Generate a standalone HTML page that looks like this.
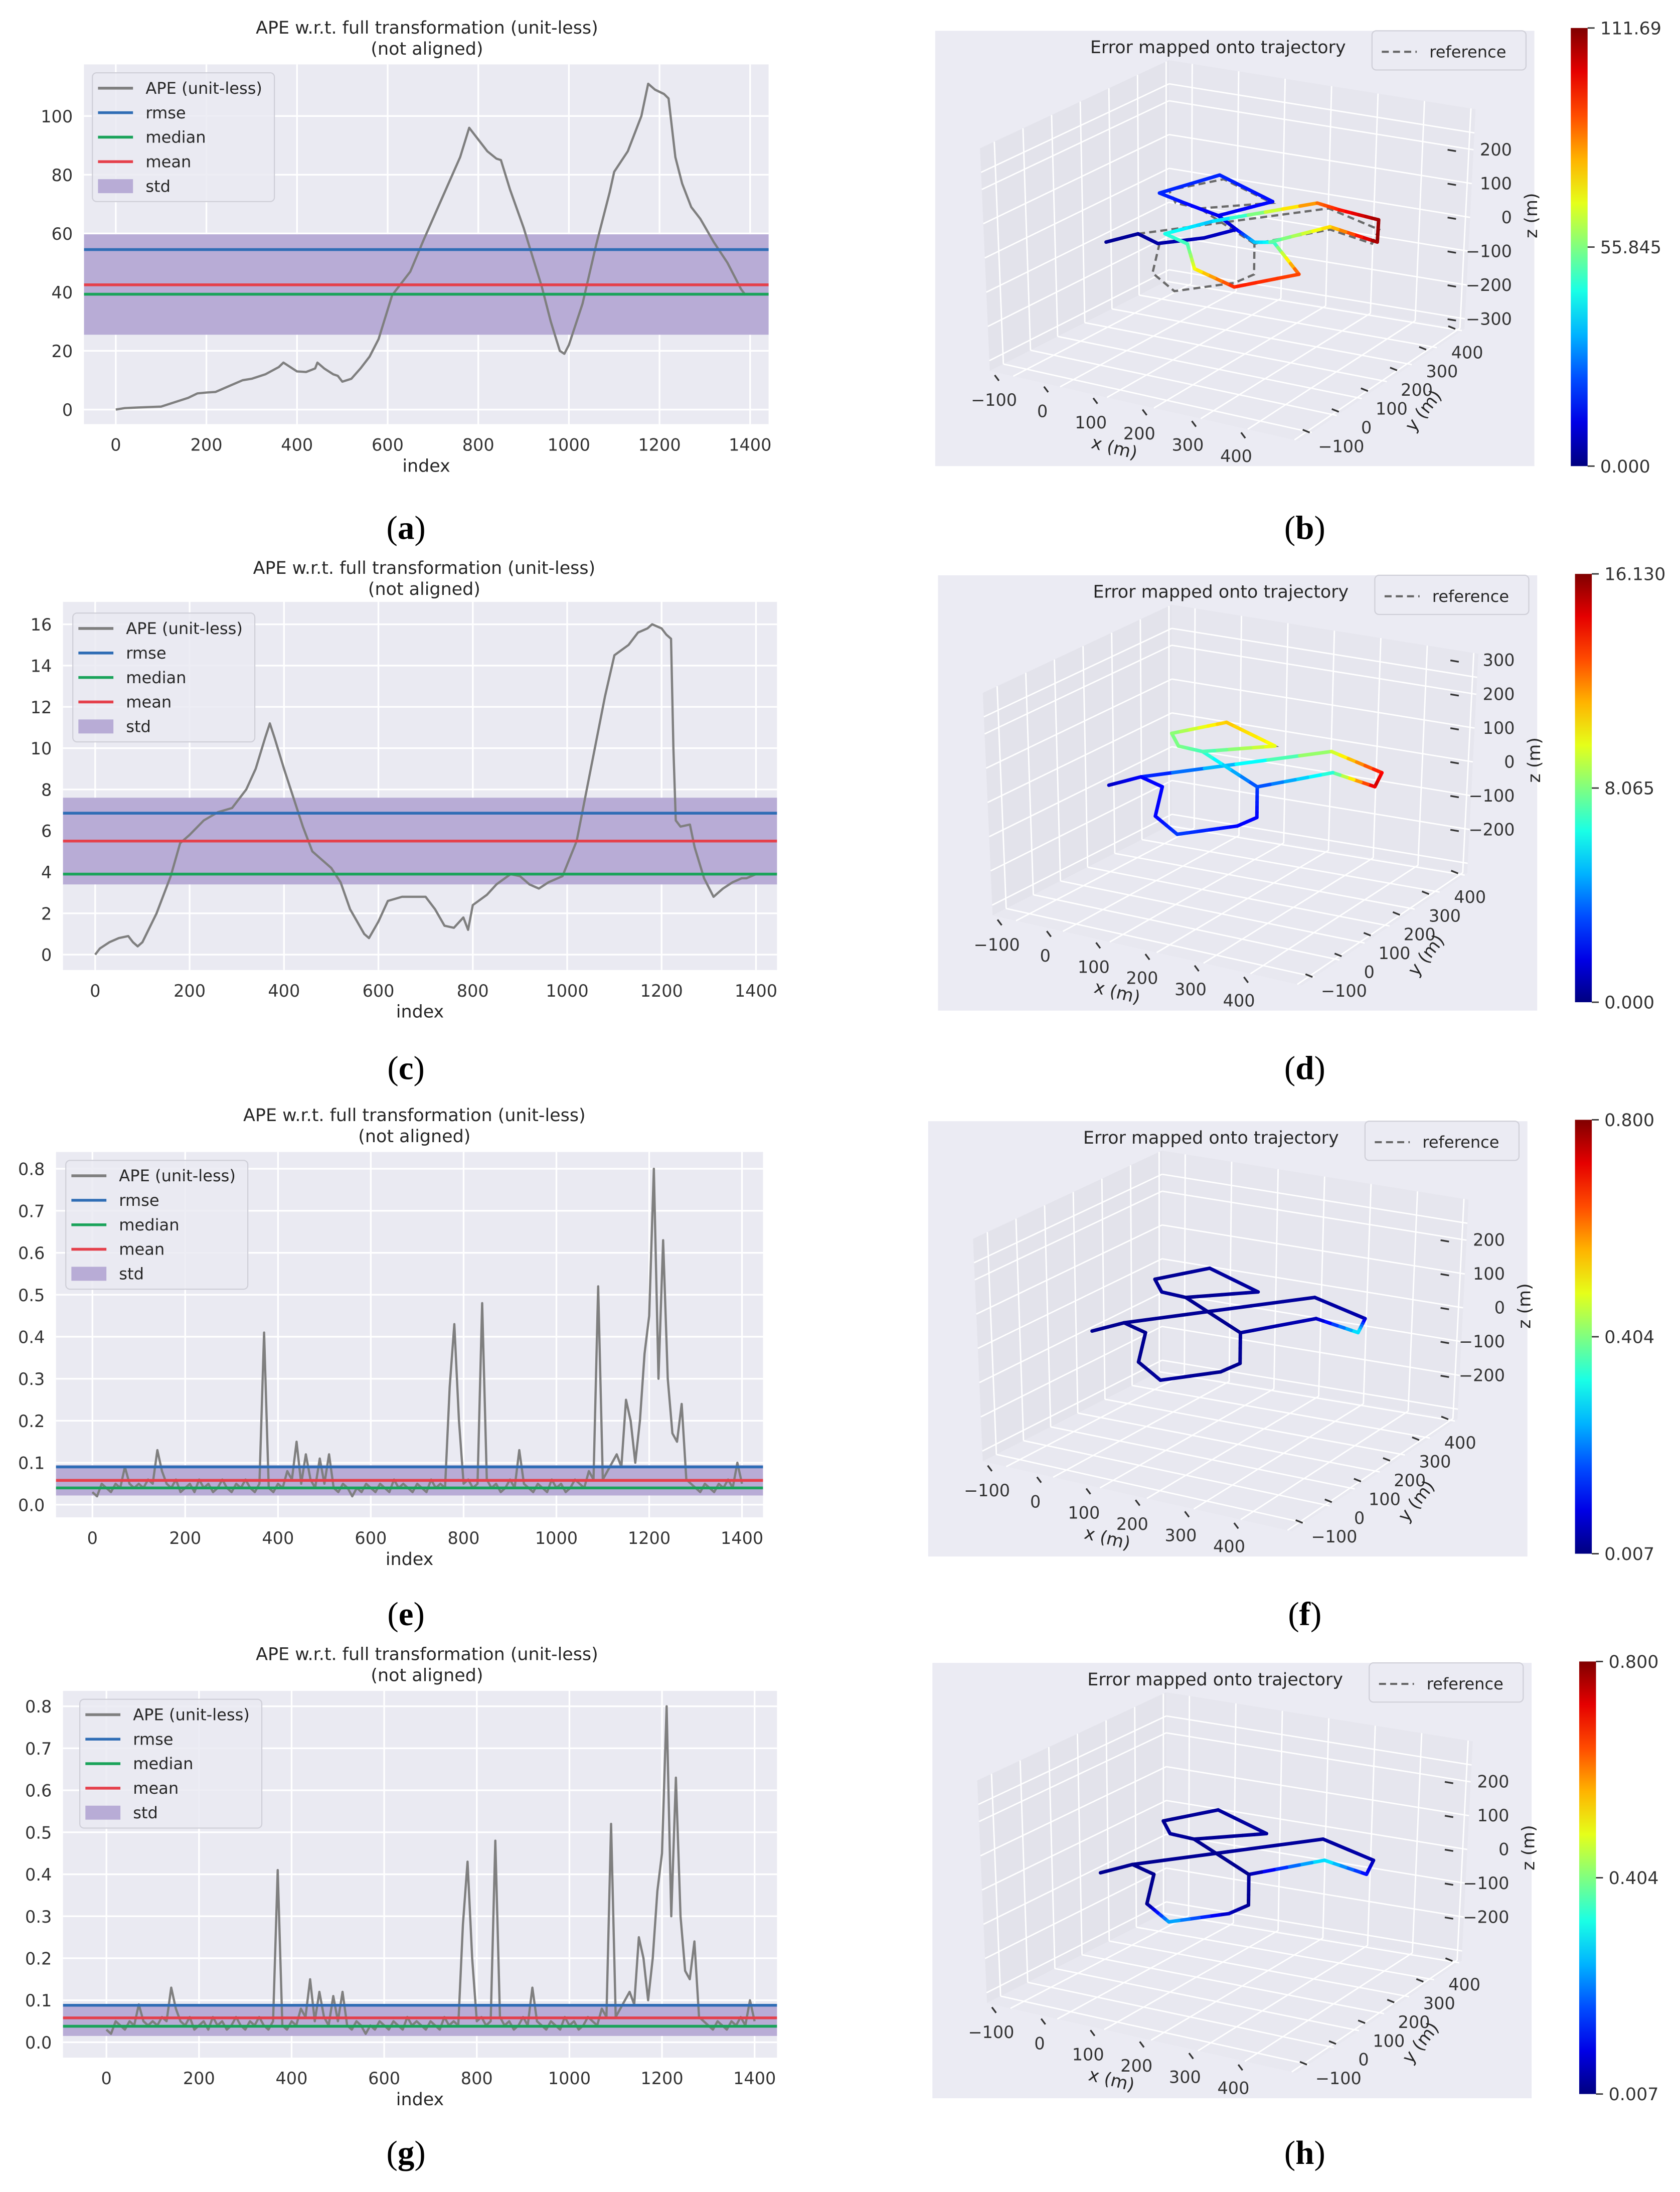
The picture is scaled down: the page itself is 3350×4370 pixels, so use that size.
<!DOCTYPE html>
<html><head><meta charset="utf-8">
<style>
html,body{margin:0;padding:0;background:#fff;}
svg{display:block;}
text{font-family:"DejaVu Sans","Liberation Sans",sans-serif;}
.cap{font-family:"Liberation Serif",serif;}
</style></head>
<body>
<svg id="fig" xmlns="http://www.w3.org/2000/svg" width="3350" height="4370" viewBox="0 0 1200 1566" preserveAspectRatio="none">
<rect x="0" y="0" width="1200" height="1566" fill="#ffffff"/>
</svg>
<script>
// ---------- DATA: panel (a) ----------
const aIdx=[0,20,50,100,130,160,180,200,220,250,280,300,330,360,370,380,400,420,440,445,460,480,490,500,520,540,560,580,600,610,620,650,680,720,760,780,800,820,840,850,870,900,940,960,980,990,1000,1030,1060,1090,1100,1130,1160,1175,1190,1210,1220,1235,1250,1270,1290,1320,1350,1380,1390];
const aVal=[0,0.5,0.7,1,2.5,4,5.5,5.8,6,8,10,10.5,12,14.5,16,15,13,12.8,14,16,14,12,11.5,9.5,10.5,14,18,24,34,39,41,47,58,72,86,96,92,88,85.5,85,75,62,42,30,20,19,22,36,56,74,81,88,100,111,109,107.5,106,86,77,69,65,57,50,41,39];
const aRmse=54.5, aMedian=39.3, aMean=42.5, aStdLo=25.5, aStdHi=59.7;
const aYTicks=[0,20,40,60,80,100];
// ---------- DATA: panel (c) ----------
const cIdx=[0,10,30,50,70,80,90,100,130,160,180,200,230,260,290,320,340,360,370,380,400,420,440,460,500,520,540,570,580,600,620,650,680,700,720,740,760,780,790,800,830,850,880,900,920,940,960,990,1020,1050,1080,1100,1130,1150,1170,1180,1200,1210,1220,1225,1230,1240,1260,1270,1290,1310,1330,1350,1370,1380,1400];
const cVal=[0,0.3,0.6,0.8,0.9,0.6,0.4,0.6,2,3.8,5.4,5.8,6.5,6.9,7.1,8,9,10.5,11.2,10.5,9,7.6,6.2,5,4.2,3.5,2.2,1,0.8,1.6,2.6,2.8,2.8,2.8,2.2,1.4,1.3,1.8,1.2,2.4,2.9,3.4,3.9,3.8,3.4,3.2,3.5,3.8,5.5,9,12.5,14.5,15,15.6,15.8,16,15.8,15.5,15.3,10,6.5,6.2,6.3,5.2,3.7,2.8,3.2,3.5,3.7,3.7,3.9];
const cRmse=6.85, cMedian=3.9, cMean=5.5, cStdLo=3.4, cStdHi=7.6;
const cYTicks=[0,2,4,6,8,10,12,14,16];
// ---------- DATA: panel (e) (index step 10) ----------
const eVal=[0.03,0.02,0.05,0.04,0.03,0.05,0.04,0.09,0.05,0.04,
0.05,0.04,0.06,0.05,0.13,0.08,0.05,0.04,0.06,0.03,
0.04,0.05,0.03,0.06,0.04,0.05,0.03,0.04,0.06,0.04,
0.03,0.05,0.04,0.06,0.04,0.03,0.05,0.41,0.04,0.03,
0.05,0.04,0.08,0.06,0.15,0.05,0.12,0.06,0.04,0.11,
0.05,0.12,0.04,0.03,0.05,0.04,0.02,0.04,0.03,0.05,
0.04,0.03,0.05,0.04,0.03,0.06,0.04,0.05,0.04,0.03,
0.05,0.04,0.03,0.06,0.04,0.05,0.04,0.28,0.43,0.2,
0.05,0.06,0.04,0.05,0.48,0.06,0.04,0.05,0.03,0.04,
0.06,0.04,0.13,0.05,0.04,0.03,0.05,0.04,0.03,0.06,
0.04,0.05,0.03,0.04,0.06,0.05,0.04,0.08,0.06,0.52,
0.06,0.08,0.1,0.12,0.09,0.25,0.2,0.1,0.2,0.36,
0.45,0.8,0.3,0.63,0.3,0.17,0.15,0.24,0.06,0.05,
0.04,0.03,0.05,0.04,0.03,0.05,0.04,0.06,0.04,0.1,0.05];
const eRmse=0.09, eMedian=0.04, eMean=0.058, eStdLo=0.022, eStdHi=0.094;
const eYTicks=[0,0.1,0.2,0.3,0.4,0.5,0.6,0.7,0.8];
// ---------- DATA: panel (g) ----------
const gVal=[0.03,0.02,0.05,0.04,0.03,0.05,0.04,0.09,0.05,0.04,
0.05,0.04,0.06,0.05,0.13,0.08,0.05,0.04,0.06,0.03,
0.04,0.05,0.03,0.06,0.04,0.05,0.03,0.04,0.06,0.04,
0.03,0.05,0.04,0.06,0.04,0.03,0.05,0.41,0.04,0.03,
0.05,0.04,0.08,0.06,0.15,0.05,0.12,0.06,0.04,0.11,
0.05,0.12,0.04,0.03,0.05,0.04,0.02,0.04,0.03,0.05,
0.04,0.03,0.05,0.04,0.03,0.06,0.04,0.05,0.04,0.03,
0.05,0.04,0.03,0.06,0.04,0.05,0.04,0.28,0.43,0.2,
0.05,0.06,0.04,0.05,0.48,0.06,0.04,0.05,0.03,0.04,
0.06,0.04,0.13,0.05,0.04,0.03,0.05,0.04,0.03,0.06,
0.04,0.05,0.03,0.04,0.06,0.05,0.04,0.08,0.06,0.52,
0.06,0.08,0.1,0.12,0.09,0.25,0.2,0.1,0.2,0.36,
0.45,0.8,0.3,0.63,0.3,0.17,0.15,0.24,0.06,0.05,
0.04,0.03,0.05,0.04,0.03,0.05,0.04,0.06,0.04,0.1,0.05];
const gRmse=0.088, gMedian=0.038, gMean=0.058, gStdLo=0.015, gStdHi=0.085;
const gYTicks=[0,0.1,0.2,0.3,0.4,0.5,0.6,0.7,0.8];
const xTicks=[0,200,400,600,800,1000,1200,1400];
// ---------- DATA: 3D trajectories (metres) ----------
const bEst1X=[-123,-90,-39,22,55,-2,-81,-141,-84,54,-2];
const bEst1Y=[-94,-31,-52,13,77,116,136,153,281,223,116];
const bEst1Err=[2,3,4,6,8,12,15,18,18,15,12];
const bEst2X=[55,110,140,246,171,71,8,-48,2,127,176,258,302,196,134];
const bEst2Y=[77,42,60,-46,-157,-120,-26,-6,90,258,251,247,156,174,57];
const bEst2Err=[10,35,45,90,95,70,50,45,35,85,95,108,110,75,50];
const refAX=[-123,-90,156,279,297,202,113,176,163,86,14,-36,-90];
const refAY=[-94,-31,247,208,145,163,36,-88,-140,-229,-176,-51,-31];
const refBX=[113,-46,-95,-132,-69,56,-46];
const refBY=[36,128,128,173,268,217,128];
const dErrA=[1,2,9,14,15,7,3,2,2,3,2,2,2];
const dErrB=[3,7,8,8,11,10,7];
const fErrA=[0.02,0.02,0.03,0.04,0.3,0.05,0.03,0.02,0.02,0.03,0.02,0.02,0.02];
const fErrB=[0.02,0.02,0.03,0.02,0.03,0.03,0.02];
const hErrA=[0.02,0.02,0.03,0.04,0.1,0.3,0.03,0.02,0.05,0.25,0.02,0.02,0.02];
const hErrB=[0.02,0.02,0.03,0.02,0.03,0.03,0.02];
const xTicks3=[-100,0,100,200,300,400];
const yTicks3=[-100,0,100,200,300,400];
const bZTicks=[200,100,0,-100,-200,-300];
const dZTicks=[300,200,100,0,-100,-200];
const fZTicks=[200,100,0,-100,-200];
const bCbarLabels=['111.69','55.845','0.000'];
const dCbarLabels=['16.130','8.065','0.000'];
const fCbarLabels=['0.800','0.404','0.007'];
const hCbarLabels=['0.800','0.404','0.007'];

const NS='http://www.w3.org/2000/svg';
const svg=document.getElementById('fig');
function mk(tag,attrs,parent){const e=document.createElementNS(NS,tag);for(const k in attrs)e.setAttribute(k,attrs[k]);(parent||svg).appendChild(e);return e;}

function drawAPE(name,G,idx,vals,rmse,median,mean,sLo,sHi,yTicks,dec){
  const grp=mk('g',{});
  
  
  const fx=i=>G.x0+(i/1400)*(G.x1400-G.x0);
  const fy=v=>G.y0-(v/G.yTopV)*(G.y0-G.yTopPx);
  const t1=mk('text',{x:G.tx,y:G.ty,'text-anchor':'middle','font-size':12.5,fill:'#262626'},grp);t1.textContent='APE w.r.t. full transformation (unit-less)';
  
  
  const t2=mk('text',{x:G.tx,y:G.ty+15,'text-anchor':'middle','font-size':12.5,fill:'#262626'},grp);t2.textContent='(not aligned)';
  
  
  const bg=mk('rect',{x:G.L,y:G.T,width:G.R-G.L,height:G.B-G.T,fill:'#eaeaf2'},grp);
  
  
  xTicks.forEach(t=>{
    const l=mk('line',{x1:fx(t),x2:fx(t),y1:G.T,y2:G.B,stroke:'#fff','stroke-width':1.2},grp);
    
    
    const tx=mk('text',{x:fx(t),y:G.B+19,'text-anchor':'middle','font-size':12,fill:'#333'},grp);tx.textContent=String(t);
    
    
  });
  yTicks.forEach(t=>{
    const l=mk('line',{x1:G.L,x2:G.R,y1:fy(t),y2:fy(t),stroke:'#fff','stroke-width':1.2},grp);
    
    
    const ty=mk('text',{x:G.L-8,y:fy(t)+4.5,'text-anchor':'end','font-size':12,fill:'#333'},grp);ty.textContent=dec?t.toFixed(1):String(t);
    
    
  });
  const xl=mk('text',{x:(G.L+G.R)/2,y:G.B+34,'text-anchor':'middle','font-size':12.5,fill:'#262626'},grp);xl.textContent='index';
  
  
  const band=mk('rect',{x:G.L,y:fy(sHi),width:G.R-G.L,height:fy(sLo)-fy(sHi),fill:'#b8acd6'},grp);
  
  
  const pts=idx.map((i,k)=>fx(i).toFixed(2)+','+fy(vals[k]).toFixed(2)).join(' ');
  const pl=mk('polyline',{points:pts,fill:'none',stroke:'#7f7f7f','stroke-width':1.6,'stroke-linejoin':'round'},grp);
  
  
  [[rmse,'#2f6db5','rmse-line'],[median,'#1aa35a','median-line'],[mean,'#e5404b','mean-line']].forEach(s=>{
    const l=mk('line',{x1:G.L,x2:G.R,y1:fy(s[0]),y2:fy(s[0]),stroke:s[1],'stroke-width':2},grp);
    
    
  });
  const lg=mk('g',{},grp);
  
  
  const lb=mk('rect',{x:G.lx,y:G.ly,width:130,height:92,rx:3,fill:'#eaeaf2','fill-opacity':0.85,stroke:'#cfcfd8','stroke-width':0.8},lg);
  
  
  const items=[['APE (unit-less)','#7f7f7f'],['rmse','#2f6db5'],['median','#1aa35a'],['mean','#e5404b'],['std','#b8acd6']];
  items.forEach((it,k)=>{
    const yy=G.ly+11+k*17.5;
    let m;
    if(k<4){m=mk('line',{x1:G.lx+4,x2:G.lx+29,y1:yy,y2:yy,stroke:it[1],'stroke-width':2},lg);}
    else{m=mk('rect',{x:G.lx+4,y:yy-5,width:25,height:10,fill:it[1]},lg);}
    
    
    const t=mk('text',{x:G.lx+38,y:yy+4,'font-size':11.5,fill:'#262626'},lg);t.textContent=it[0];
    
    
  });
}

const stepIdx=eVal.map((v,k)=>k*10);
drawAPE('ape-chart-a',{L:60,R:549,T:46,B:303,x0:82.7,x1400:535.8,y0:292.6,yTopV:100,yTopPx:82.9,tx:305,ty:24,lx:66,ly:52},aIdx,aVal,aRmse,aMedian,aMean,aStdLo,aStdHi,aYTicks,false);
drawAPE('ape-chart-c',{L:45,R:555,T:430,B:693,x0:68,x1400:540,y0:682,yTopV:16,yTopPx:446,tx:303,ty:410,lx:52,ly:438},cIdx,cVal,cRmse,cMedian,cMean,cStdLo,cStdHi,cYTicks,false);
drawAPE('ape-chart-e',{L:40,R:545,T:823,B:1084,x0:66,x1400:530,y0:1075,yTopV:0.8,yTopPx:835,tx:296,ty:801,lx:47,ly:829},stepIdx,eVal,eRmse,eMedian,eMean,eStdLo,eStdHi,eYTicks,true);
drawAPE('ape-chart-g',{L:45,R:555,T:1208,B:1470,x0:76,x1400:539,y0:1459,yTopV:0.8,yTopPx:1219,tx:305,ty:1186,lx:57,ly:1214},stepIdx,gVal,gRmse,gMedian,gMean,gStdLo,gStdHi,gYTicks,true);

function jet(t){t=Math.max(0,Math.min(1,t));const c=v=>Math.round(255*Math.max(0,Math.min(1,v)));return 'rgb('+c(1.5-Math.abs(4*t-3))+','+c(1.5-Math.abs(4*t-2))+','+c(1.5-Math.abs(4*t-1))+')';}
function lerp(a,b,t){return [a[0]+(b[0]-a[0])*t,a[1]+(b[1]-a[1])*t];}

function draw3D(name,ox,oy,P,zTicks,cbar,cbarLabels,trajs,refs,emin,emax){
  const grp=mk('g',{});
  
  
  const bg=mk('rect',{x:668+ox,y:22+oy,width:428,height:311,fill:'#ebebf3'},grp);
  
  
  const o=(p)=>[p[0]+ox,p[1]+oy];
  const FL=o([707,265]),B=o([835,200]),R=o([1046,235]),F=o([928,315]);
  const FLt=o([700,106]),Bt=o([835,43]),Rt=o([1054,78]);
  const poly=(pts,fill,nm)=>{const p=mk('polygon',{points:pts.map(q=>q.join(',')).join(' '),fill:fill},grp);};
  poly([FL,B,Bt,FLt],'#e3e3eb','left-pane');
  poly([B,R,Rt,Bt],'#e6e6ee','back-pane');
  poly([FL,F,R,B],'#e8e8f0','floor-pane');
  const gl=(a,b)=>{const l=mk('line',{x1:a[0],y1:a[1],x2:b[0],y2:b[1],stroke:'#fff','stroke-width':1},grp);};
  const zPx=z=>107+(200-z)*0.242;
  for(let k=0;k<=6;k++){const u=(k+0.5)/6.6;
    gl(lerp(FL,F,u),lerp(B,R,u)); gl(lerp(B,R,u),lerp(Bt,Rt,u));
    gl(lerp(FL,B,u),lerp(F,R,u)); gl(lerp(FL,B,u),lerp(FLt,Bt,u));}
  [250,200,100,0,-100,-200,-300].forEach(z=>{
    const w=(zPx(z)-zPx(-330))/(zPx(320)-zPx(-330));
    gl(lerp(FL,FLt,w),lerp(B,Bt,w)); gl(lerp(B,Bt,w),lerp(R,Rt,w));
  });
  zTicks.forEach(z=>{
    const yy=zPx(z)+oy;
    const d=mk('line',{x1:1034+ox,x2:1040+ox,y1:yy,y2:yy+1,stroke:'#333','stroke-width':1.2},grp);
    
    
    const t=mk('text',{x:1080+ox,y:yy+4,'text-anchor':'end','font-size':12,fill:'#333'},grp);t.textContent=(z<0?'\u2212'+(-z):String(z));
    
    
  });
  xTicks3.forEach((v,k)=>{
    const u=(v+100)/500;
    const p=lerp([710+ox,290+oy],[883+ox,330+oy],u);
    const t=mk('text',{x:p[0],y:p[1],'text-anchor':'middle','font-size':12,fill:'#333'},grp);t.textContent=(v<0?'\u2212'+(-v):String(v));
    
    
    const q=lerp([712+ox,270+oy],[888+ox,311+oy],u);
    const d=mk('line',{x1:q[0]-1.5,y1:q[1]-2,x2:q[0]+1.5,y2:q[1]+2,stroke:'#333','stroke-width':1.2},grp);
    
    
  });
  yTicks3.forEach((v,k)=>{
    const u=(v+100)/500;
    const p=lerp([958+ox,323+oy],[1048+ox,256+oy],u);
    const t=mk('text',{x:p[0],y:p[1],'text-anchor':'middle','font-size':12,fill:'#333'},grp);t.textContent=(v<0?'\u2212'+(-v):String(v));
    
    
    const q=lerp([933+ox,308+oy],[1037+ox,234+oy],u);
    const d=mk('line',{x1:q[0]-2.5,y1:q[1]-1,x2:q[0]+2.5,y2:q[1]+1,stroke:'#333','stroke-width':1.2},grp);
    
    
  });
  const xt=mk('text',{x:795+ox,y:324+oy,'text-anchor':'middle','font-size':12.5,fill:'#262626',transform:'rotate(14 '+(795+ox)+' '+(324+oy)+')'},grp);xt.textContent='x (m)';
  
  
  const yt=mk('text',{x:1020+ox,y:296+oy,'text-anchor':'middle','font-size':12.5,fill:'#262626',transform:'rotate(-52 '+(1020+ox)+' '+(296+oy)+')'},grp);yt.textContent='y (m)';
  
  
  const zt=mk('text',{x:1098+ox,y:154+oy,'text-anchor':'middle','font-size':12.5,fill:'#262626',transform:'rotate(-90 '+(1098+ox)+' '+(154+oy)+')'},grp);zt.textContent='z (m)';
  
  
  const ti=mk('text',{x:870+ox,y:38+oy,'text-anchor':'middle','font-size':12.5,fill:'#262626'},grp);ti.textContent='Error mapped onto trajectory';
  
  
  const lb=mk('rect',{x:980+ox,y:22+oy,width:110,height:28,rx:3,fill:'#ebebf3',stroke:'#cfcfd8','stroke-width':0.8},grp);
  
  
  const ll=mk('line',{x1:987+ox,x2:1012+ox,y1:37+oy,y2:37+oy,stroke:'#666','stroke-width':1.5,'stroke-dasharray':'5,3'},grp);
  
  
  const lt=mk('text',{x:1021+ox,y:41+oy,'font-size':11.5,fill:'#262626'},grp);lt.textContent='reference';
  
  
  const proj=(x,y,z)=>[P[0]+x*0.35+y*0.18, P[1]+x*0.08-y*0.136-z*0.24];
  refs.forEach(r=>{
    const pts=r.x.map((x,k)=>proj(x,r.y[k],0).map(v=>v.toFixed(2)).join(',')).join(' ');
    const pl=mk('polyline',{points:pts,fill:'none',stroke:'#6a6a6a','stroke-width':1.6,'stroke-dasharray':'5,3'},grp);
    
    
  });
  trajs.forEach(tr=>{
    for(let k=0;k<tr.x.length-1;k++){
      const a=proj(tr.x[k],tr.y[k],0),b=proj(tr.x[k+1],tr.y[k+1],0);
      const n=6;
      for(let s=0;s<n;s++){
        const p1=lerp(a,b,s/n),p2=lerp(a,b,(s+1)/n);
        const e=tr.e[k]+(tr.e[k+1]-tr.e[k])*((s+0.5)/n);
        const l=mk('line',{x1:p1[0],y1:p1[1],x2:p2[0],y2:p2[1],stroke:jet((e-emin)/(emax-emin)),'stroke-width':2.5,'stroke-linecap':'round'},grp);
        
        
      }
    }
  });
  const gid='jet'+name;
  const defs=mk('defs',{},grp);
  const lgd=mk('linearGradient',{id:gid,x1:0,y1:1,x2:0,y2:0},defs);
  for(let k=0;k<=10;k++){mk('stop',{offset:(k/10),'stop-color':jet(k/10)},lgd);}
  const cb=mk('rect',{x:cbar[0],y:cbar[1],width:12,height:cbar[2]-cbar[1],fill:'url(#'+gid+')'},grp);
  
  
  cbarLabels.forEach((lab,k)=>{
    const yy=cbar[1]+(cbar[2]-cbar[1])*k/2;
    const d=mk('line',{x1:cbar[0]+12,x2:cbar[0]+17,y1:yy,y2:yy,stroke:'#333','stroke-width':1},grp);
    
    
    const t=mk('text',{x:cbar[0]+21,y:yy+4.5,'font-size':12.5,fill:'#333'},grp);t.textContent=lab;
    
    
  });
}

draw3D('trajectory-3d-b',0,0,[850,170],bZTicks,[1122,20,333],bCbarLabels,
  [{x:bEst1X,y:bEst1Y,e:bEst1Err},{x:bEst2X,y:bEst2Y,e:bEst2Err}],
  [{x:refAX.slice(1),y:refAY.slice(1)},{x:refBX,y:refBY}],0,111.69);
draw3D('trajectory-3d-d',2,389,[852,558],dZTicks,[1125,410,716],dCbarLabels,
  [{x:refAX,y:refAY,e:dErrA},{x:refBX,y:refBY,e:dErrB}],
  [{x:refAX,y:refAY},{x:refBX,y:refBY}],0,16.13);
draw3D('trajectory-3d-f',-5,779,[840,948],fZTicks,[1125,800,1110],fCbarLabels,
  [{x:refAX,y:refAY,e:fErrA},{x:refBX,y:refBY,e:fErrB}],[],0.007,0.8);
draw3D('trajectory-3d-h',-2,1166,[846,1335],fZTicks,[1128,1187,1496],hCbarLabels,
  [{x:refAX,y:refAY,e:hErrA},{x:refBX,y:refBY,e:hErrB}],[],0.007,0.8);

const caps=[['a',290,385],['b',932,385],['c',290,771],['d',932,771],['e',290,1161],['f',932,1161],['g',290,1546],['h',932,1546]];
caps.forEach(c=>{
  const t=mk('text',{x:c[1],y:c[2],'text-anchor':'middle','font-size':24,fill:'#000','class':'cap'});
  t.innerHTML='(<tspan font-weight="bold">'+c[0]+'</tspan>)';
  
  
});
</script>
</body></html>
